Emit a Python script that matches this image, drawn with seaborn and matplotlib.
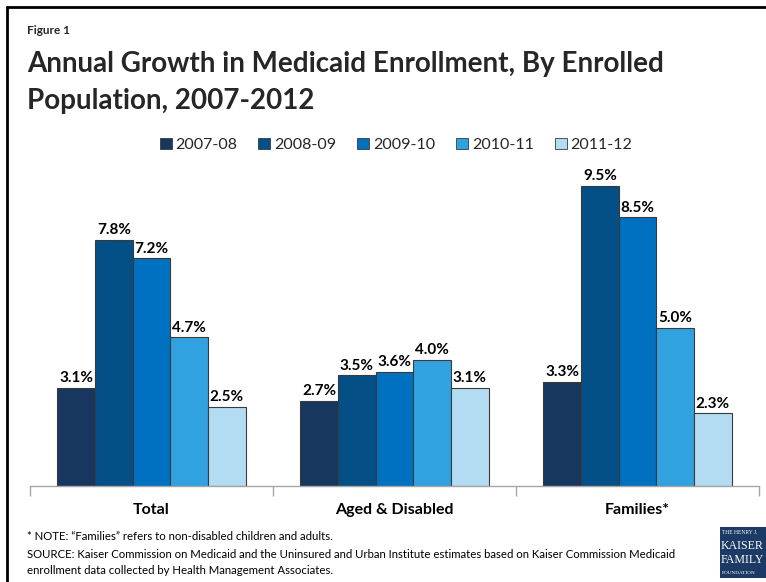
import matplotlib
matplotlib.use("Agg")
import matplotlib.pyplot as plt
import matplotlib.patches as mpatches
import seaborn as sns
import pandas as pd

# Enrollment growth by population group and fiscal period (percent)
populations = ["Total", "Aged & Disabled", "Families*"]
periods = ["2007-08", "2008-09", "2009-10", "2010-11", "2011-12"]
growth_total = [3.1, 7.8, 7.2, 4.7, 2.5]
growth_aged_disabled = [2.7, 3.5, 3.6, 4.0, 3.1]
growth_families = [3.3, 9.5, 8.5, 5.0, 2.3]
period_colors = ["#17375E", "#034F86", "#0070C0", "#31A2E0", "#B3DCF2"]

rows = []
for pop, vals in zip(populations, [growth_total, growth_aged_disabled, growth_families]):
    for per, v in zip(periods, vals):
        rows.append({"population": pop, "period": per, "growth": v})
df = pd.DataFrame(rows)

sns.set_theme(style="white")
plt.rcParams["font.family"] = ["Lato", "DejaVu Sans"]

W, H = 766, 582
fig = plt.figure(figsize=(W / 100, H / 100), dpi=100)

def fx(px):
    return px / W

def fy(py):
    return 1 - py / H

ax = fig.add_axes([fx(30), fy(486), fx(759) - fx(30), fy(170) - fy(486)])
sns.barplot(data=df, x="population", y="growth", hue="period",
            hue_order=periods, order=populations, palette=period_colors,
            saturation=1, width=0.775, gap=0, edgecolor="#3A3A3A",
            linewidth=0.8, legend=False, ax=ax)

ax.set_xlim(-0.5, 2.5)
ax.set_ylim(0, 10)
ax.set_xlabel("")
ax.set_ylabel("")
ax.set_yticks([])
for side in ["left", "right", "top"]:
    ax.spines[side].set_visible(False)
ax.spines["bottom"].set_color("#A6A6A6")
ax.spines["bottom"].set_linewidth(1.0)

ax.set_xticks(range(len(populations)))
ax.set_xticklabels(populations, fontsize=11.5, fontweight="bold", color="black")
ax.tick_params(axis="x", which="major", length=0, pad=12)
ax.set_xticks([-0.5, 0.5, 1.5, 2.5], minor=True)
ax.tick_params(axis="x", which="minor", length=7, width=1.0, color="#A6A6A6",
               direction="out", bottom=True)

for container in ax.containers:
    ax.bar_label(container, fmt="%.1f%%", fontsize=11, fontweight="bold",
                 padding=2, color="black")

# Legend row
handles = [mpatches.Patch(facecolor=c, edgecolor="#3A3A3A", linewidth=0.6, label=p)
           for c, p in zip(period_colors, periods)]
fig.legend(handles=handles, loc="center", bbox_to_anchor=(fx(396), fy(145)),
           ncol=5, frameon=False, fontsize=11.5, handlelength=0.75,
           handleheight=0.75, handletextpad=0.25, columnspacing=1.3)

# Titles
fig.text(fx(27), fy(30), "Figure 1", fontsize=8.5, fontweight="bold", va="center")
fig.text(fx(27), fy(64), "Annual Growth in Medicaid Enrollment, By Enrolled",
         fontsize=20, fontweight="bold", va="center")
fig.text(fx(27), fy(101), "Population, 2007-2012",
         fontsize=20, fontweight="bold", va="center")

# Footnotes
foot = dict(fontsize=8.2, va="center", color="black")
fig.text(fx(27), fy(537), "* NOTE: \u201cFamilies\u201d refers to non-disabled children and adults.", **foot)
fig.text(fx(27), fy(554), "SOURCE: Kaiser Commission on Medicaid and the Uninsured and Urban Institute "
         "estimates based on Kaiser Commission Medicaid", **foot)
fig.text(fx(27), fy(571), "enrollment data collected by Health Management Associates.", **foot)

# Foundation badge
badge = mpatches.Rectangle((fx(720), fy(578)), fx(60), fy(527) - fy(578),
                           transform=fig.transFigure, facecolor="#1B3A66",
                           edgecolor="none")
fig.patches.append(badge)
serif = dict(family="Liberation Serif", color="white", va="center", ha="left")
fig.text(fx(722), fy(533), "THE HENRY J.", fontsize=4.0, **serif)
fig.text(fx(721), fy(546), "KAISER", fontsize=8.6, **serif)
fig.text(fx(721), fy(560), "FAMILY", fontsize=8.6, **serif)
fig.text(fx(722), fy(573), "FOUNDATION", fontsize=3.8, **serif)

# Slide frame along the top and left edges
frame_kw = dict(transform=fig.transFigure, color="black", linewidth=2.0)
fig.add_artist(plt.Line2D([fx(7), 1.0], [fy(7), fy(7)], **frame_kw))
fig.add_artist(plt.Line2D([fx(7), fx(7)], [fy(7), 0.0], **frame_kw))

fig.savefig("out.png", dpi=100, facecolor="white")
